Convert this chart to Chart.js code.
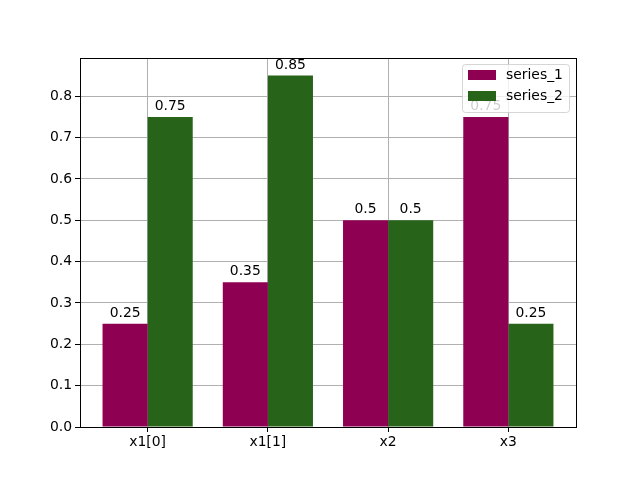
<!DOCTYPE html>
<html>
<head>
<meta charset="utf-8">
<script src="https://cdn.jsdelivr.net/npm/chart.js@4"></script>
<style>
  html, body { margin: 0; padding: 0; background: #fff; }
  #wrap { width: 640px; height: 480px; }
</style>
</head>
<body>
<div id="wrap"><canvas id="chart" width="640" height="480"></canvas></div>
<script>
const categories = ["x1[0]", "x1[1]", "x2", "x3"];
const series1 = [0.25, 0.35, 0.5, 0.75];
const series2 = [0.75, 0.85, 0.5, 0.25];
const seriesNames = ["series_1", "series_2"];
const yTicks = [0, 0.1, 0.2, 0.3, 0.4, 0.5, 0.6, 0.7, 0.8];

const colors = ["#8e0152", "#276419"];
const font = "DejaVu Sans";

// value labels above each bar
const barLabels = {
    id: 'barLabels',
    afterDatasetsDraw(chart) {
        const ctx = chart.ctx;
        ctx.save();
        ctx.font = `13.9px "${font}"`;
        ctx.fillStyle = '#000';
        ctx.textAlign = 'center';
        ctx.textBaseline = 'alphabetic';
        chart.data.datasets.forEach((ds, i) => {
            chart.getDatasetMeta(i).data.forEach((bar, j) => {
                ctx.fillText(String(ds.data[j].y), bar.x, bar.y - 7);
            });
        });
        // frame
        const a = chart.chartArea;
        ctx.strokeStyle = '#000';
        ctx.lineWidth = 1;
        ctx.strokeRect(Math.round(a.left) + 0.5, Math.round(a.top) + 0.5,
            Math.round(a.right - a.left), Math.round(a.bottom - a.top));
        ctx.restore();
    },
    afterDraw(chart) {
        // legend inside top right
        const ctx = chart.ctx;
        const a = chart.chartArea;
        ctx.save();
        const x = a.right - 114, y = a.top + 6, w = 107, h = 48;
        ctx.beginPath();
        ctx.roundRect(x + 0.5, y + 0.5, w, h, 3);
        ctx.fillStyle = 'rgba(255,255,255,0.8)';
        ctx.fill();
        ctx.strokeStyle = 'rgba(204,204,204,0.8)';
        ctx.stroke();
        ctx.font = `13.9px "${font}"`;
        ctx.textBaseline = 'middle';
        seriesNames.forEach((name, i) => {
            const yy = y + 6 + i * 21;
            ctx.fillStyle = colors[i];
            ctx.fillRect(x + 6, yy, 28, 10);
            ctx.fillStyle = '#000';
            ctx.fillText(name, x + 44, yy + 5);
        });
        ctx.restore();
    }
};

new Chart(document.getElementById('chart'), {
    type: 'bar',
    data: {
        datasets: [
            { label: seriesNames[0], data: series1.map((v, i) => ({ x: i, y: v })), backgroundColor: colors[0], borderWidth: 0 },
            { label: seriesNames[1], data: series2.map((v, i) => ({ x: i, y: v })), backgroundColor: colors[1], borderWidth: 0 }
        ]
    },
    options: {
        responsive: false,
        animation: false,
        layout: { padding: { left: 0, right: 64, top: 58, bottom: 0 } },
        datasets: { bar: { barPercentage: 1, categoryPercentage: 0.75 } },
        plugins: { legend: { display: false }, tooltip: { enabled: false } },
        scales: {
            x: {
                type: 'linear',
                min: -0.5625,
                max: 3.5625,
                offset: false,
                afterBuildTicks: axis => { axis.ticks = categories.map((c, i) => ({ value: i })); },
                afterFit: axis => { axis.height = 53; },
                ticks: {
                    callback: v => categories[v],
                    color: '#000',
                    font: { family: font, size: 13.9 },
                    padding: 2
                },
                grid: { offset: false, color: '#b0b0b0', tickColor: '#000', tickLength: 5, lineWidth: 1 },
                border: { display: false }
            },
            y: {
                min: 0,
                max: 0.8925,
                afterBuildTicks: axis => { axis.ticks = yTicks.map(v => ({ value: v })); },
                afterFit: axis => { axis.width = 80; },
                ticks: {
                    callback: v => v.toFixed(1),
                    color: '#000',
                    font: { family: font, size: 13.9 },
                    padding: 3
                },
                grid: { color: '#b0b0b0', tickColor: '#000', tickLength: 5, lineWidth: 1 },
                border: { display: false }
            }
        }
    },
    plugins: [barLabels]
});
</script>
</body>
</html>
